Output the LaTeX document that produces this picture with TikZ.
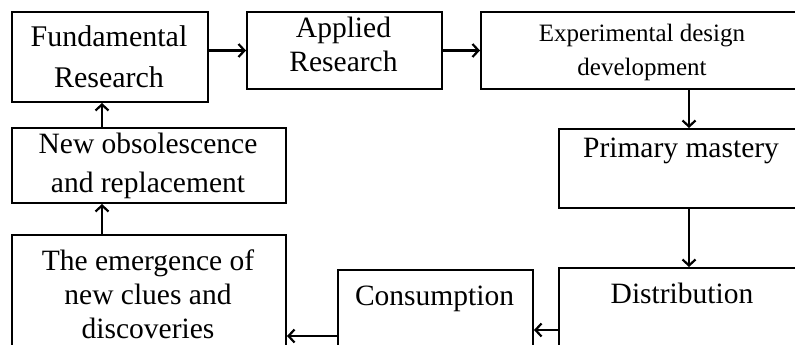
\documentclass[tikz,border=0pt]{standalone}
\usepackage{fontspec}
\setmainfont{Liberation Serif}
\usetikzlibrary{arrows.meta,calc}
\newcommand\mylines[1]{\begin{tabular}[t]{@{}c@{}}#1\end{tabular}}
\begin{document}
\begin{tikzpicture}[x=1pt,y=-1pt,
  box/.style={draw,line width=2pt,inner sep=0pt,anchor=north west},
  lbl/.style={inner sep=0pt,anchor=base,font=\fontsize{29.5}{39}\selectfont},
  arr/.style={line width=2.2pt,-{Straight Barb[length=6pt,width=13pt]}}]
\clip (0,0) rectangle (795,345);
% boxes
\node[box,minimum width=196pt,minimum height=90pt] (fund) at (11,11) {};
\node[box,minimum width=195pt,minimum height=77pt] (appl) at (246,11) {};
\node[box,minimum width=416pt,minimum height=77pt] (exp) at (480,11) {};
\node[box,minimum width=260pt,minimum height=79pt] (pm) at (558,128) {};
\node[box,minimum width=260pt,minimum height=124pt] (dist) at (558,267) {};
\node[box,minimum width=195pt,minimum height=132pt] (cons) at (337,269) {};
\node[box,minimum width=274pt,minimum height=150pt] (emer) at (11,234) {};
\node[box,minimum width=274pt,minimum height=75pt] (newobs) at (11,127) {};
% texts
\node[lbl,font=\fontsize{30}{40}\selectfont] (fund-t) at (109,47) {\mylines{Fundamental\\Research}};
\node[lbl,font=\fontsize{29.5}{34}\selectfont] (appl-t) at (343.5,38) {\mylines{Applied\\Research}};
\node[lbl,font=\fontsize{25}{33}\selectfont] (exp-t) at (642,42) {\mylines{Experimental design\\development}};
\node[lbl] (pm-t) at (681,157) {Primary mastery};
\node[lbl] (dist-t) at (682,303) {Distribution};
\node[lbl] (cons-t) at (434.5,305) {Consumption};
\node[lbl,font=\fontsize{29.5}{34}\selectfont] (emer-t) at (148,270) {\mylines{The emergence of\\new clues and\\discoveries}};
\node[lbl,font=\fontsize{29.5}{39}\selectfont] (newobs-t) at (148,153) {\mylines{New obsolescence\\and replacement}};
% connectors
\coordinate (ax) at (102,0);
\draw[arr] (fund.east |- appl.west) -- (appl.west);
\draw[arr] (appl.east) -- (exp.west);
\draw[arr] (exp.south -| pm.north) -- (pm.north);
\draw[arr] (pm.south) -- (dist.north);
\draw[arr] (dist.west) -- (cons.east |- dist.west);
\draw[arr] (cons.west) -- (emer.east |- cons.west);
\draw[arr] (emer.north -| ax) -- (newobs.south -| ax);
\draw[arr] (newobs.north -| ax) -- (fund.south -| ax);
\end{tikzpicture}
\end{document}
